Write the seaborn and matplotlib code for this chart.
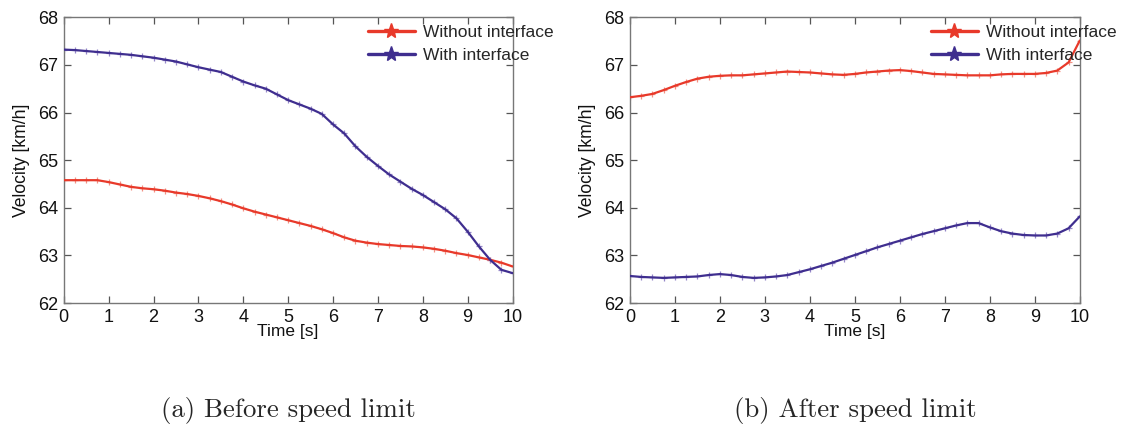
import numpy as np
import pandas as pd
import seaborn as sns
import matplotlib.pyplot as plt
from matplotlib.lines import Line2D

# Time axis, sampled every 0.25 s
time_s = np.arange(0, 10.001, 0.25)

# (a) Before speed limit
before_without = [64.58, 64.58, 64.58, 64.58, 64.54, 64.49, 64.44, 64.41, 64.39, 64.36,
                  64.32, 64.29, 64.25, 64.20, 64.14, 64.07, 63.99, 63.92, 63.86, 63.80,
                  63.74, 63.68, 63.62, 63.55, 63.47, 63.38, 63.31, 63.27, 63.24, 63.22,
                  63.20, 63.19, 63.17, 63.14, 63.10, 63.05, 63.01, 62.96, 62.91, 62.85,
                  62.77]
before_with = [67.32, 67.31, 67.29, 67.27, 67.25, 67.23, 67.21, 67.18, 67.15, 67.11,
               67.07, 67.01, 66.95, 66.90, 66.85, 66.75, 66.65, 66.57, 66.50, 66.38,
               66.26, 66.17, 66.08, 65.97, 65.75, 65.56, 65.29, 65.07, 64.88, 64.70,
               64.55, 64.40, 64.27, 64.12, 63.97, 63.78, 63.50, 63.19, 62.91, 62.70,
               62.63]

# (b) After speed limit
after_without = [66.32, 66.35, 66.39, 66.47, 66.56, 66.64, 66.71, 66.75, 66.77, 66.78,
                 66.78, 66.80, 66.82, 66.84, 66.86, 66.85, 66.84, 66.82, 66.80, 66.79,
                 66.81, 66.84, 66.86, 66.88, 66.89, 66.87, 66.84, 66.81, 66.80, 66.79,
                 66.78, 66.78, 66.78, 66.80, 66.81, 66.81, 66.81, 66.83, 66.88, 67.05,
                 67.51]
after_with = [62.57, 62.55, 62.54, 62.53, 62.54, 62.55, 62.56, 62.59, 62.61, 62.59,
              62.55, 62.53, 62.54, 62.56, 62.59, 62.65, 62.71, 62.78, 62.85, 62.93,
              63.01, 63.09, 63.17, 63.24, 63.31, 63.38, 63.45, 63.51, 63.57, 63.63,
              63.68, 63.68, 63.59, 63.51, 63.46, 63.43, 63.42, 63.42, 63.46, 63.57,
              63.82]

series_names = ["Without interface", "With interface"]
captions = ["(a) Before speed limit", "(b) After speed limit"]

RED = "#E8392A"
RED_LIGHT = "#F29184"
BLUE = "#3F2E8F"
BLUE_LIGHT = "#9587C8"

sns.set_theme(style="ticks")
plt.rcParams["font.family"] = ["Liberation Sans", "DejaVu Sans"]

fig = plt.figure(figsize=(11.39, 4.30), dpi=100)
ax_a = fig.add_axes([0.056, 0.295, 0.394, 0.665])
ax_b = fig.add_axes([0.553, 0.295, 0.395, 0.665])

panels = [
    (ax_a, before_without, before_with, 1.092),
    (ax_b, after_without, after_with, 1.083),
]

for ax, without_vals, with_vals, legend_x in panels:
    df = pd.DataFrame({"t": time_s, "without": without_vals, "with": with_vals})
    for col, dark, light in [("without", RED, RED_LIGHT), ("with", BLUE, BLUE_LIGHT)]:
        # cross markers underneath, solid trace on top
        sns.scatterplot(data=df, x="t", y=col, ax=ax, marker="+", s=22,
                        linewidth=0.9, color=light, zorder=2, legend=False)
        sns.lineplot(data=df, x="t", y=col, ax=ax, color=dark, linewidth=1.6,
                     zorder=3)

    ax.set_xlim(0, 10)
    ax.set_ylim(62, 68)
    ax.set_xticks(range(0, 11))
    ax.set_yticks(range(62, 69))
    ax.tick_params(direction="in", length=5, width=0.9, color="#555555",
                   top=True, right=True, labelsize=13, pad=4, labelcolor="#111111")
    for sp in ax.spines.values():
        sp.set_color("#777777")
        sp.set_linewidth(1.0)
    ax.set_xlabel("Time [s]", fontsize=12.5, labelpad=-1, color="#111111")
    ax.set_ylabel("Velocity [km/h]", fontsize=12.7, labelpad=6, color="#111111")

    handles = [
        Line2D([0], [0], color=RED, lw=2.4, marker="*", markersize=11,
               markeredgecolor=RED, markerfacecolor=RED),
        Line2D([0], [0], color=BLUE, lw=2.4, marker="*", markersize=11,
               markeredgecolor=BLUE, markerfacecolor=BLUE),
    ]
    leg = ax.legend(handles, series_names, loc="upper right", frameon=False,
                    fontsize=12.5, handlelength=2.7, handletextpad=0.5,
                    labelspacing=0.45, borderpad=0, borderaxespad=0,
                    bbox_to_anchor=(legend_x, 0.972))
    leg.set_zorder(5)

fig.text(0.253, 0.046, captions[0], ha="center", va="center",
         fontsize=19.3, family="cmr10")
fig.text(0.751, 0.046, captions[1], ha="center", va="center",
         fontsize=19.3, family="cmr10")

fig.savefig("out.png", dpi=100, facecolor="white")
